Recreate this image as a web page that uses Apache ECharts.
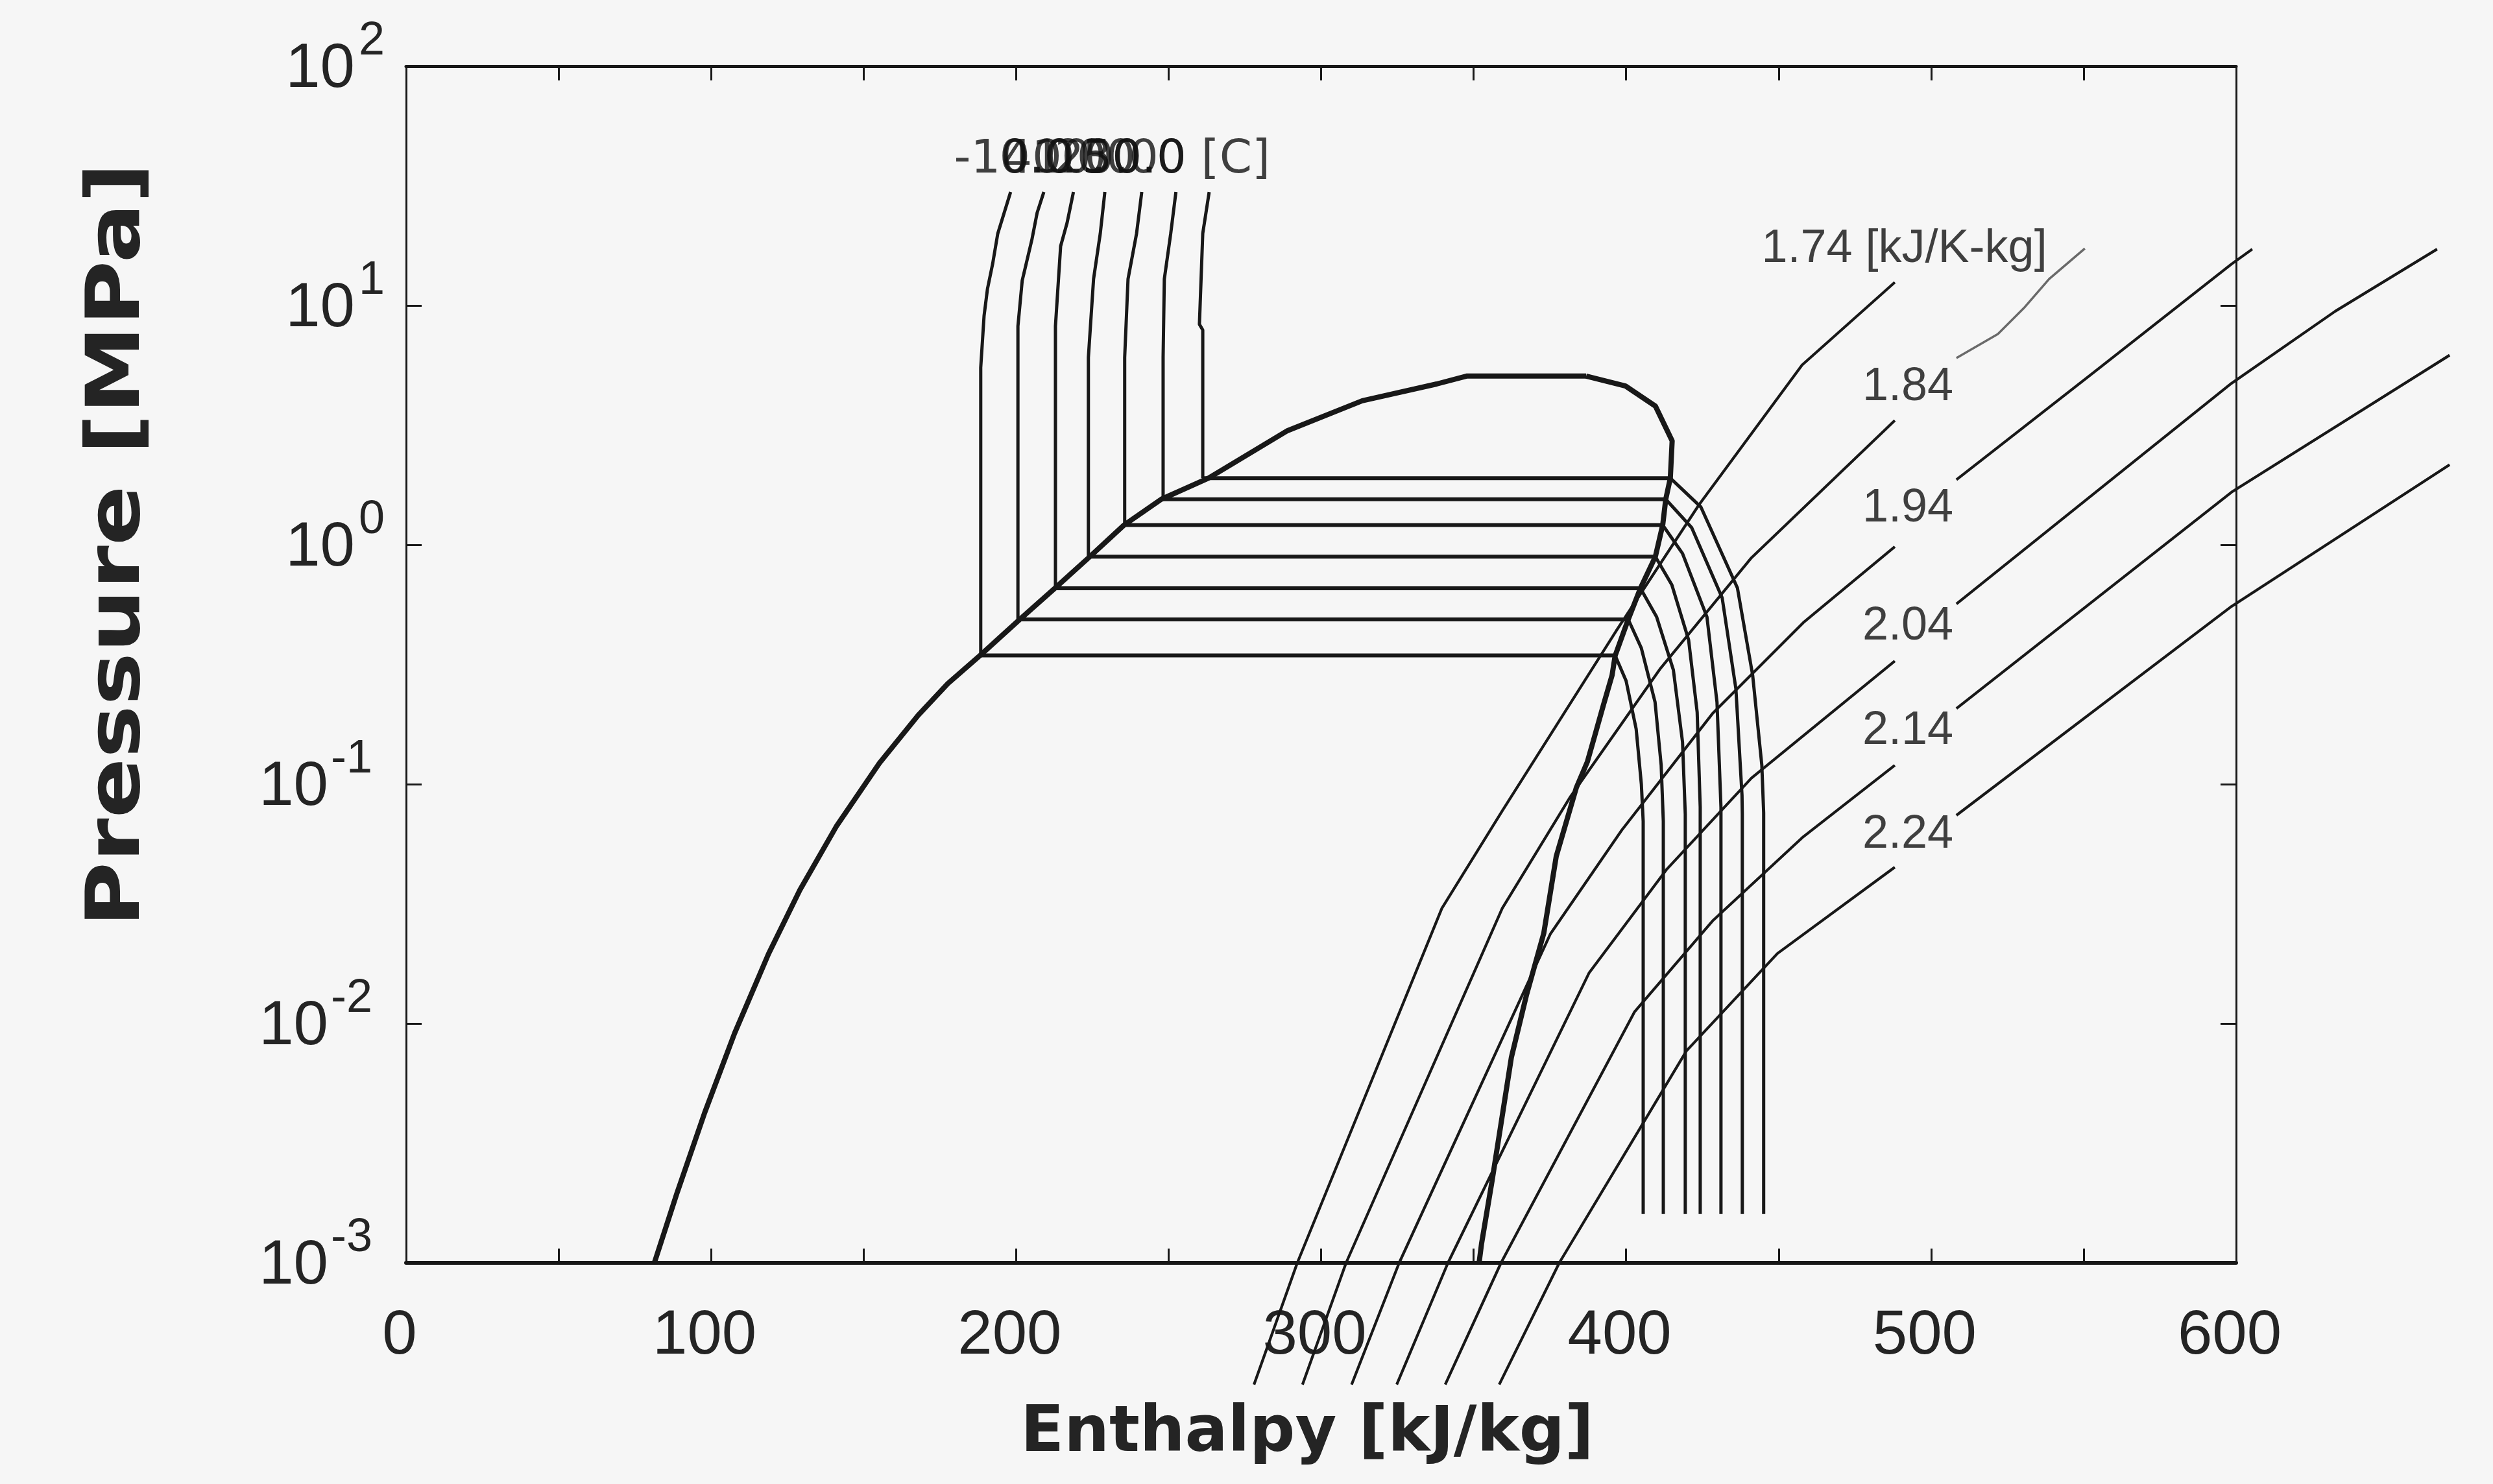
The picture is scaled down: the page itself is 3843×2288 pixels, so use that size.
<!DOCTYPE html>
<html>
<head>
<meta charset="utf-8">
<script src="https://cdn.jsdelivr.net/npm/echarts@6/dist/echarts.min.js"></script>
<style>
  html, body { margin: 0; padding: 0; background: #f6f6f6; }
  #chart { width: 3843px; height: 2288px; }
</style>
</head>
<body>
<div id="chart"></div>
<script>
// ---------- p-h diagram data: [enthalpy kJ/kg, pressure MPa] ----------

// Saturated liquid line (bottom -> critical region)
const satLiquid = [
  [81.4, 0.001], [88.9, 0.00197], [97.9, 0.00424], [107.7, 0.0091], [118.8, 0.0195],
  [129.1, 0.0361], [141.0, 0.0664], [155.2, 0.1225], [167.9, 0.194], [177.6, 0.263],
  [188.2, 0.345], [201.2, 0.488], [212.7, 0.658], [224.2, 0.893], [235.4, 1.21],
  [247.6, 1.55], [263.1, 1.90], [289.0, 3.00], [313.5, 4.00], [337.9, 4.70],
  [347.7, 5.07], [386.9, 5.07]
];

// Saturated vapour line (critical region -> bottom)
const satVapor = [
  [386.9, 5.07], [399.8, 4.61], [409.6, 3.80], [415.1, 2.72], [414.5, 1.90],
  [413.0, 1.55], [412.0, 1.21], [409.6, 0.893], [404.7, 0.658], [400.7, 0.488],
  [396.4, 0.344], [395.4, 0.285], [392.6, 0.215], [390.0, 0.164], [387.3, 0.124],
  [383.7, 0.0968], [377.1, 0.0500], [373.0, 0.0238], [367.3, 0.0131], [362.4, 0.00723],
  [359.2, 0.00397], [356.0, 0.00218], [352.6, 0.00120], [351.8, 0.001]
];

// Isotherms (°C)
const temperatures = [-10, 0, 10, 20, 30, 40, 50];
const tempLabels = ['-10.0', '0.0', '10.0', '20.0', '30.0', '40.0', '50.0 [C]'];
const tempLabelAnchors = [[179.5, 40.4], [194.4, 40.4], [205.0, 40.4], [212.5, 40.4], [221.6, 40.4], [195.4, 40.4], [221.6, 40.4]];
const satPressure = [0.345, 0.488, 0.658, 0.893, 1.21, 1.55, 1.90];
const vaporEnthalpy = [396.4, 400.7, 404.7, 409.6, 412.0, 413.0, 414.5];

// Compressed-liquid part of each isotherm (top -> saturation)
const liquidM10 = [[198.2, 29.8], [196.1, 24.4], [194.0, 20.0], [192.3, 14.9], [190.6, 11.7], [189.5, 9.06], [188.4, 5.50], [188.4, 0.345]];
const liquid0   = [[209.1, 29.8], [206.9, 24.4], [205.2, 18.9], [202.0, 12.7], [200.6, 8.19], [200.6, 0.488]];
const liquid10  = [[218.8, 29.8], [216.7, 22.1], [214.6, 17.7], [212.9, 8.19], [212.9, 0.658]];
const liquid20  = [[229.1, 29.8], [227.6, 20.0], [225.4, 12.9], [223.7, 6.07], [223.7, 0.893]];
const liquid30  = [[241.2, 29.8], [239.5, 20.0], [236.7, 12.9], [235.6, 6.07], [235.6, 1.21]];
const liquid40  = [[252.4, 29.8], [250.7, 20.0], [248.6, 12.9], [248.2, 6.07], [248.2, 1.55]];
const liquid50  = [[263.3, 29.8], [261.2, 20.0], [260.1, 8.34], [261.2, 7.90], [261.2, 1.90]];

// Superheated part of each isotherm (saturation -> low pressure)
const vaporM10 = [[396.4, 0.345], [400.0, 0.27], [403.3, 0.17], [405.0, 0.10], [405.6, 0.07], [405.6, 0.0016]];
const vapor0   = [[400.7, 0.488], [405.0, 0.37], [409.5, 0.22], [411.5, 0.12], [412.2, 0.07], [412.2, 0.0016]];
const vapor10  = [[404.7, 0.658], [410.0, 0.50], [415.5, 0.30], [418.5, 0.15], [419.4, 0.075], [419.4, 0.0016]];
const vapor20  = [[409.6, 0.893], [415.0, 0.68], [420.5, 0.40], [423.3, 0.20], [424.3, 0.08], [424.3, 0.0016]];
const vapor30  = [[412.0, 1.21], [418.5, 0.92], [426.5, 0.50], [429.8, 0.22], [431.1, 0.08], [431.1, 0.0016]];
const vapor40  = [[413.0, 1.55], [421.5, 1.18], [431.5, 0.60], [436.0, 0.25], [438.0, 0.09], [438.1, 0.075], [438.1, 0.0016]];
const vapor50  = [[414.5, 1.90], [424.5, 1.44], [436.5, 0.66], [441.5, 0.285], [444.5, 0.12], [445.1, 0.076], [445.1, 0.0016]];

// Isentropes (kJ/K-kg): lower part up to the label column, upper part beyond it
const entropyLabels = ['1.74 [kJ/K-kg]', '1.84', '1.94', '2.04', '2.14', '2.24'];
const entropyLabelAnchors = [[444.3, 17.2], [507.4, 4.56], [507.4, 1.42], [507.4, 0.456], [507.4, 0.167], [507.4, 0.0615]];
const s174Low = [[278.0, 0.00031], [292.2, 0.001], [339.6, 0.0303], [359.4, 0.0774], [396.6, 0.434], [423.9, 1.47], [457.7, 5.64], [488.1, 12.5]];
const s184Low = [[293.9, 0.00031], [308.2, 0.001], [359.4, 0.0303], [381.5, 0.0877], [411.3, 0.305], [441.1, 0.883], [488.1, 3.31]];
const s194Low = [[310.0, 0.00031], [325.6, 0.001], [375.2, 0.0237], [398.6, 0.0643], [428.3, 0.197], [458.1, 0.473], [488.1, 0.982]];
const s204Low = [[324.8, 0.00031], [341.6, 0.001], [387.9, 0.0163], [413.4, 0.0442], [441.1, 0.106], [488.1, 0.327]];
const s214Low = [[340.7, 0.00031], [359.0, 0.001], [402.8, 0.0112], [428.3, 0.0268], [458.1, 0.0603], [488.1, 0.120]];
const s224Low = [[358.4, 0.00031], [378.1, 0.001], [419.8, 0.00769], [449.6, 0.0196], [488.1, 0.0450]];
const s184High = [[508.3, 6.03], [521.9, 7.60], [530.4, 9.75], [538.7, 12.9], [550.4, 17.3]];
const s194High = [[508.3, 1.87], [553.4, 5.26], [598.5, 14.9], [605.3, 17.2]];
const s204High = [[508.3, 0.566], [598.5, 4.73], [632.5, 9.46], [665.9, 17.2]];
const s214High = [[508.3, 0.207], [598.5, 1.66], [670.0, 6.2]];
const s224High = [[508.3, 0.0741], [598.5, 0.553], [670.0, 2.16]];

// Axis ranges
const enthalpyRange = [0, 600];
const enthalpyRangeWide = [0, 680];
const pressureRange = [0.001, 100];

// ---------- drawing ----------
const INK = '#181818';
const TEXT = '#242424';

const liquidParts = [liquidM10, liquid0, liquid10, liquid20, liquid30, liquid40, liquid50];
const vaporParts = [vaporM10, vapor0, vapor10, vapor20, vapor30, vapor40, vapor50];
const lowerIsentropes = [s174Low, s184Low, s194Low, s204Low, s214Low, s224Low];
const upperIsentropes = [s184High, s194High, s204High, s214High, s224High];

function line(name, data, width, color, axisIndex) {
  const idx = axisIndex || 0;
  return {
    name: name, type: 'line', data: data, symbol: 'none', clip: false, silent: true,
    xAxisIndex: idx, yAxisIndex: idx,
    lineStyle: { color: color || INK, width: width }, z: 3
  };
}

const series = [];
series.push(line('saturated liquid', satLiquid, 8));
series.push(line('saturated vapour', satVapor, 8));

temperatures.forEach(function (t, i) {
  series.push(line('T ' + t + ' liquid', liquidParts[i], 5));
  const hf = liquidParts[i][liquidParts[i].length - 1][0];
  series.push(line('T ' + t + ' two-phase', [[hf, satPressure[i]], [vaporEnthalpy[i], satPressure[i]]], 6));
  series.push(line('T ' + t + ' vapour', vaporParts[i], 5));
});

lowerIsentropes.forEach(function (d, i) {
  series.push(line('s ' + entropyLabels[i] + ' low', d, 4.2));
});
// the upper branches run past h = 600, so they use a wider (hidden) frame with the same scale
upperIsentropes.forEach(function (d, i) {
  series.push(line('s ' + entropyLabels[i + 1] + ' high', d, i === 0 ? 3.5 : 4.2, i === 0 ? '#6a6a6a' : INK, 1));
});

// temperature labels, overprinted at the top of the liquid isotherms
series.push({
  type: 'scatter', symbolSize: 1, silent: true, z: 5,
  itemStyle: { color: 'rgba(0,0,0,0)' },
  data: tempLabelAnchors.map(function (p, i) { return { value: p, name: tempLabels[i] }; }),
  label: {
    show: true, position: 'right', distance: 0,
    formatter: function (p) { return p.name; },
    fontFamily: 'DejaVu Sans', fontSize: 72, color: '#111111'
  }
});

// entropy labels
series.push({
  type: 'scatter', symbolSize: 1, silent: true, z: 5,
  itemStyle: { color: 'rgba(0,0,0,0)' },
  data: entropyLabelAnchors.map(function (p, i) {
    return {
      value: p, name: entropyLabels[i],
      label: { position: i === 0 ? 'right' : 'left' }
    };
  }),
  label: {
    show: true, distance: 0,
    formatter: function (p) { return p.name; },
    fontFamily: 'Liberation Sans', fontSize: 72, color: '#111111'
  }
});

const xCommon = {
  type: 'value', min: enthalpyRange[0], max: enthalpyRange[1], interval: 100,
  axisLine: { onZero: false, lineStyle: { color: INK, width: 6 } },
  axisTick: { inside: true, length: 22, lineStyle: { color: INK, width: 3 } },
  minorTick: { show: true, splitNumber: 2, length: 22, lineStyle: { color: INK, width: 3 } },
  splitLine: { show: false },
  minorSplitLine: { show: false }
};
const yCommon = {
  type: 'log', logBase: 10, min: pressureRange[0], max: pressureRange[1],
  axisLine: { onZero: false, lineStyle: { color: INK, width: 3 } },
  axisTick: { inside: true, length: 24, lineStyle: { color: INK, width: 3 } },
  minorTick: { show: false },
  splitLine: { show: false }
};

const plotWidth = 3843 - 626 - 396;
const option = {
  backgroundColor: '#f6f6f6',
  animation: false,
  grid: [
    { left: 626, right: 396, top: 102, bottom: 341 },
    { left: 626, top: 102, bottom: 341,
      width: plotWidth * (enthalpyRangeWide[1] - enthalpyRangeWide[0]) / (enthalpyRange[1] - enthalpyRange[0]) }
  ],
  xAxis: [
    Object.assign({}, xCommon, {
      gridIndex: 0, position: 'bottom',
      axisLabel: {
        margin: 66, padding: [0, 20, 0, 0],
        fontFamily: 'Liberation Sans', fontSize: 96, color: TEXT
      }
    }),
    { type: 'value', gridIndex: 1, min: enthalpyRangeWide[0], max: enthalpyRangeWide[1], show: false },
    Object.assign({}, xCommon, {
      gridIndex: 0, position: 'top',
      axisLine: { onZero: false, lineStyle: { color: INK, width: 5 } },
      axisLabel: { show: false }
    })
  ],
  yAxis: [
    Object.assign({}, yCommon, {
      gridIndex: 0, position: 'left',
      axisLabel: {
        margin: 33, padding: [0, 0, 20, 0],
        formatter: function (v) {
          const n = Math.round(Math.log10(v));
          return n < 0 ? '{b|10}{en|' + n + '}' : '{b|10}{e|' + n + '}';
        },
        rich: {
          b: { fontFamily: 'Liberation Sans', fontSize: 96, lineHeight: 128, verticalAlign: 'bottom', color: TEXT },
          e: { fontFamily: 'Liberation Sans', fontSize: 72, lineHeight: 70, verticalAlign: 'top', color: TEXT, padding: [0, 0, 0, 6] },
          en: { fontFamily: 'Liberation Sans', fontSize: 72, lineHeight: 70, verticalAlign: 'top', color: TEXT, padding: [0, 19, 0, 4] }
        }
      }
    }),
    { type: 'log', logBase: 10, gridIndex: 1, min: pressureRange[0], max: pressureRange[1], show: false },
    Object.assign({}, yCommon, {
      gridIndex: 0, position: 'right',
      axisLabel: { show: false }
    })
  ],
  graphic: [
    {
      type: 'text', x: 2015, y: 2212, silent: true,
      style: {
        text: 'Enthalpy [kJ/kg]', fill: TEXT,
        font: 'bold 98px "DejaVu Sans"', align: 'center', verticalAlign: 'middle'
      }
    },
    {
      type: 'text', x: 184, y: 840, rotation: Math.PI / 2, scaleX: 1.2, scaleY: 1, silent: true,
      style: {
        text: 'Pressure [MPa]', fill: TEXT,
        font: 'bold 114px "DejaVu Sans"', align: 'center', verticalAlign: 'middle'
      }
    }
  ],
  series: series
};

const chart = echarts.init(document.getElementById('chart'), null, { renderer: 'canvas' });
chart.setOption(option);
</script>
</body>
</html>
